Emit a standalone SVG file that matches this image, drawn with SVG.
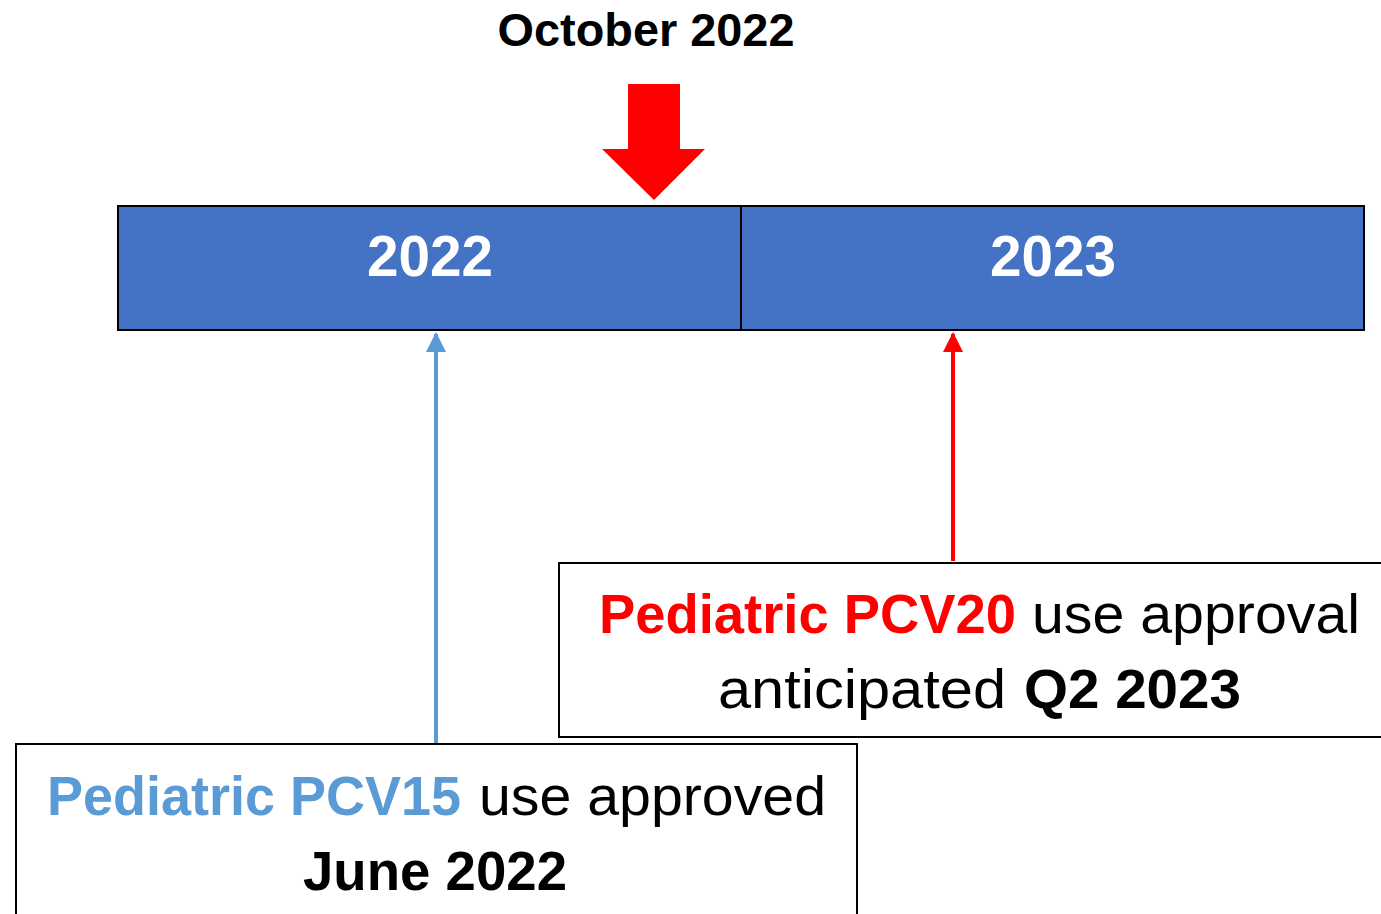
<svg xmlns="http://www.w3.org/2000/svg" width="1381" height="914" viewBox="0 0 1381 914">
<style>
text{font-family:"Liberation Sans",Arial,sans-serif}
.b{font-weight:bold}
.box{fill:#fff;stroke:#000;stroke-width:2}
</style>
<defs>
<marker id="ab" viewBox="0 0 10 10" refX="9" refY="5" markerWidth="5" markerHeight="5" orient="auto" markerUnits="strokeWidth"><path d="M0,0 L10,5 L0,10 z" fill="#5B9BD5"/></marker>
<marker id="ar" viewBox="0 0 10 10" refX="9" refY="5" markerWidth="5" markerHeight="5" orient="auto" markerUnits="strokeWidth"><path d="M0,0 L10,5 L0,10 z" fill="#FF0000"/></marker>
</defs>
<g id="title">
<text class="b" x="646" y="46" font-size="46" text-anchor="middle" textLength="297" lengthAdjust="spacingAndGlyphs">October 2022</text>
</g>
<g id="oct-arrow">
<polygon points="628,84 680,84 680,149 705,149 654,200 602,149 628,149" fill="#FF0000"/>
</g>
<g id="timeline">
<rect x="118" y="206" width="623" height="124" fill="#4472C4" stroke="#000" stroke-width="2"/>
<rect x="741" y="206" width="623" height="124" fill="#4472C4" stroke="#000" stroke-width="2"/>
<text class="b" x="430" y="276" font-size="58" fill="#fff" text-anchor="middle" textLength="126" lengthAdjust="spacingAndGlyphs">2022</text>
<text class="b" x="1053" y="276" font-size="58" fill="#fff" text-anchor="middle" textLength="126" lengthAdjust="spacingAndGlyphs">2023</text>
</g>
<g id="connectors">
<line x1="436" y1="746" x2="436" y2="334" stroke="#5B9BD5" stroke-width="4" marker-end="url(#ab)"/>
<line x1="953" y1="561" x2="953" y2="334" stroke="#FF0000" stroke-width="4" marker-end="url(#ar)"/>
</g>
<g id="pcv20">
<rect class="box" x="559" y="563" width="830" height="174"/>
<text class="b" x="599" y="633" font-size="56" fill="#FF0000" textLength="417" lengthAdjust="spacingAndGlyphs">Pediatric PCV20</text>
<text x="1032" y="633" font-size="56" textLength="328" lengthAdjust="spacingAndGlyphs">use approval</text>
<text x="718" y="708" font-size="56" textLength="288" lengthAdjust="spacingAndGlyphs">anticipated</text>
<text class="b" x="1024" y="708" font-size="56" textLength="217" lengthAdjust="spacingAndGlyphs">Q2 2023</text>
</g>
<g id="pcv15">
<rect class="box" x="16" y="744" width="841" height="180"/>
<text class="b" x="47" y="815" font-size="56" fill="#5B9BD5" textLength="414" lengthAdjust="spacingAndGlyphs">Pediatric PCV15</text>
<text x="479" y="815" font-size="56" textLength="347" lengthAdjust="spacingAndGlyphs">use approved</text>
<text class="b" x="303" y="890" font-size="56" textLength="264" lengthAdjust="spacingAndGlyphs">June 2022</text>
</g>
</svg>
